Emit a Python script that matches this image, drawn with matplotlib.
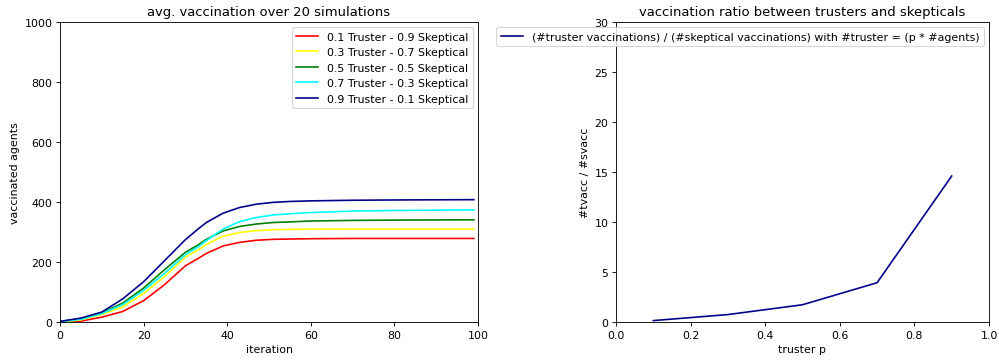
import matplotlib
matplotlib.use("Agg")
import matplotlib.pyplot as plt

iterations = [0, 5, 10, 15, 20, 25, 30, 33, 35, 39, 43, 47, 51, 55, 60, 70, 80, 99]
vacc_01 = [0, 4, 17, 36, 72, 125, 188, 212, 229, 254, 266, 273, 276, 277, 278, 279, 279, 279]
vacc_03 = [1, 8, 26, 51, 96, 152, 217, 240, 259, 286, 299, 305, 308, 309, 310, 310, 310, 310]
vacc_05 = [2, 12, 31, 64, 114, 175, 233, 257, 276, 304, 319, 327, 332, 334, 337, 339, 340, 341]
vacc_07 = [2, 10, 29, 59, 106, 163, 225, 251, 272, 310, 335, 349, 357, 361, 365, 370, 372, 374]
vacc_09 = [3, 14, 34, 78, 135, 205, 275, 310, 332, 363, 382, 393, 399, 402, 404, 406, 407, 408]

series_labels = ["0.1 Truster - 0.9 Skeptical", "0.3 Truster - 0.7 Skeptical",
                 "0.5 Truster - 0.5 Skeptical", "0.7 Truster - 0.3 Skeptical",
                 "0.9 Truster - 0.1 Skeptical"]
series_colors = ["red", "yellow", "green", "cyan", "darkblue"]

truster_p = [0.1, 0.3, 0.5, 0.7, 0.9]
ratio = [0.17, 0.77, 1.75, 3.95, 14.6]

DPI = 79
fig = plt.figure(figsize=(999 / DPI, 363 / DPI), dpi=DPI)
ax1 = fig.add_axes([0.0601, 0.1094, 0.4184, 0.828])
ax2 = fig.add_axes([0.6166, 0.1094, 0.3734, 0.828])

for vals, lab, col in zip([vacc_01, vacc_03, vacc_05, vacc_07, vacc_09], series_labels, series_colors):
    ax1.plot(iterations, vals, color=col, label=lab, linewidth=1.5)
ax1.set_xlim(0, 100)
ax1.set_ylim(0, 1000)
ax1.set_title("avg. vaccination over 20 simulations", fontsize=12)
ax1.set_xlabel("iteration")
ax1.set_ylabel("vaccinated agents")
ax1.legend(loc="upper right")

ax2.plot(truster_p, ratio, color="darkblue", linewidth=1.5,
         label="(#truster vaccinations) / (#skeptical vaccinations) with #truster = (p * #agents)")
ax2.set_xlim(0, 1.0)
ax2.set_ylim(0, 30)
ax2.set_title("vaccination ratio between trusters and skepticals", fontsize=12)
ax2.set_xlabel("truster p")
ax2.set_ylabel("#tvacc / #svacc")
ax2.legend(loc="upper right")

fig.savefig("out.png", dpi=DPI)
